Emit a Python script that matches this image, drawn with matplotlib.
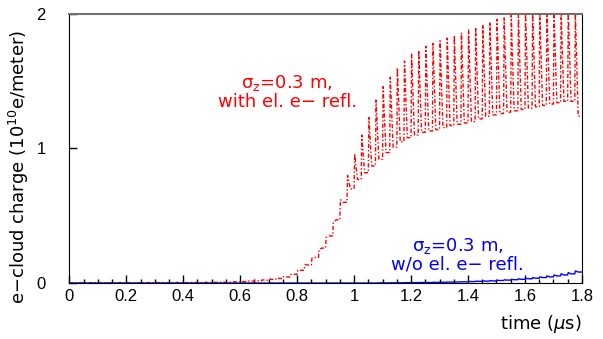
import numpy as np
import matplotlib.pyplot as plt

# one entry per bunch passage (72 bunches, 25 ns apart)
bunch_t = np.arange(72) * 0.025

# e-cloud charge just before / just after each bunch, with reflection (1e10 e/m)
red_low = [0.001, 0.001, 0.001, 0.001, 0.001, 0.001, 0.001, 0.002, 0.002, 0.002,
           0.002, 0.002, 0.002, 0.003, 0.003, 0.003, 0.003, 0.003, 0.004, 0.004,
           0.004, 0.005, 0.006, 0.007, 0.009, 0.011, 0.014, 0.017, 0.021, 0.027,
           0.034, 0.045, 0.065, 0.095, 0.135, 0.19, 0.26, 0.35, 0.47, 0.60,
           0.70, 0.77, 0.82, 0.87, 0.92, 0.97, 1.01, 1.05, 1.08, 1.10,
           1.12, 1.13, 1.14, 1.155, 1.17, 1.18, 1.19, 1.20, 1.22, 1.24,
           1.25, 1.26, 1.27, 1.28, 1.29, 1.30, 1.31, 1.32, 1.33, 1.34,
           1.35, 1.35]
red_high = [0.003, 0.003, 0.003, 0.003, 0.003, 0.003, 0.003, 0.004, 0.004, 0.004,
            0.004, 0.004, 0.004, 0.005, 0.005, 0.005, 0.005, 0.005, 0.006, 0.006,
            0.006, 0.007, 0.009, 0.011, 0.013, 0.016, 0.020, 0.024, 0.030, 0.038,
            0.048, 0.065, 0.095, 0.135, 0.185, 0.25, 0.34, 0.45, 0.62, 0.80,
            0.96, 1.10, 1.23, 1.36, 1.46, 1.53, 1.60, 1.65, 1.70, 1.73,
            1.76, 1.78, 1.80, 1.82, 1.84, 1.86, 1.88, 1.90, 1.92, 1.94,
            1.96, 1.97, 1.99, 2.00, 2.01, 2.01, 2.02, 2.02, 2.02, 2.02,
            2.02, 2.02]
red_end = 1.24

# without reflection
blue_low = [0.0] * 44 + [0.001, 0.001, 0.002, 0.002, 0.003, 0.003, 0.004, 0.004,
                         0.005, 0.006, 0.007, 0.008, 0.009, 0.011, 0.013, 0.014,
                         0.016, 0.019, 0.022, 0.025, 0.028, 0.032, 0.036, 0.041,
                         0.046, 0.053, 0.060, 0.068]
blue_high = [0.0005] * 44 + [0.002, 0.002, 0.003, 0.003, 0.004, 0.004, 0.005, 0.006,
                             0.007, 0.008, 0.009, 0.010, 0.012, 0.014, 0.016, 0.018,
                             0.021, 0.024, 0.028, 0.032, 0.036, 0.041, 0.046, 0.053,
                             0.060, 0.069, 0.078, 0.090]
blue_end = 0.082

x_ticks = [0, 0.2, 0.4, 0.6, 0.8, 1, 1.2, 1.4, 1.6, 1.8]
x_ticklabels = ['0', '0.2', '0.4', '0.6', '0.8', '1', '1.2', '1.4', '1.6', '1.8']
y_ticks = [0, 1, 2]


def sawtooth(t, low, high, end):
    # fast rise at each bunch, decay, then flat until next bunch
    lows = list(low) + [end]
    xs, ys = [], []
    for i in range(len(t)):
        xs += [t[i], t[i] + 0.002, t[i] + 0.012]
        ys += [lows[i], high[i], lows[i + 1]]
    xs.append(t[-1] + 0.025)
    ys.append(end)
    return xs, ys


fig = plt.figure(figsize=(6.03, 3.39), dpi=100)
ax = fig.add_axes([0.115, 0.165, 0.85, 0.794])

rx, ry = sawtooth(bunch_t, red_low, red_high, red_end)
bx, by = sawtooth(bunch_t, blue_low, blue_high, blue_end)
ax.plot(rx, ry, color='#ff0000', lw=1.0, linestyle=(0, (3, 1.5, 1, 1.5)))
ax.plot(bx, by, color='#0000ff', lw=1.0, clip_on=False)

ax.set_xlim(0, 1.8)
ax.set_ylim(0, 2)
ax.set_xticks(x_ticks)
ax.set_xticklabels(x_ticklabels)
ax.set_xticks(np.arange(0, 1.8001, 0.05), minor=True)
ax.set_yticks(y_ticks)
ax.tick_params(which='both', direction='in', top=False, right=False,
               labelfontfamily='Liberation Sans', labelsize=12, color='black')
ax.tick_params(axis='x', which='major', length=6, width=1, pad=4)
ax.tick_params(axis='x', which='minor', length=3, width=1)
ax.tick_params(axis='y', which='major', length=6, width=1, pad=17)

ax.spines['top'].set_color('#707070')
ax.spines['top'].set_linewidth(1.5)

ax.set_xlabel(r'time ($\mu$s)', fontsize=13, ha='right')
ax.xaxis.set_label_coords(1.0, -0.11)
ax.set_ylabel('e\u2212cloud charge (10$^{10}$e/meter)', fontsize=13, ha='center')
ax.yaxis.set_label_coords(-0.074, 0.43)

sigma = r'$\mathregular{\sigma_z}$=0.3 m,'
ax.text(0.765, 1.49, sigma, color='#ff0000', fontsize=13,
        ha='center', va='center')
ax.text(0.765, 1.345, 'with el. e\u2212 refl.', color='#ff0000', fontsize=13,
        ha='center', va='center')
ax.text(1.363, 0.275, sigma, color='#0000ff', fontsize=13,
        ha='center', va='center')
ax.text(1.363, 0.135, 'w/o el. e\u2212 refl.', color='#0000ff', fontsize=13,
        ha='center', va='center')

fig.savefig('out.png', dpi=100)
